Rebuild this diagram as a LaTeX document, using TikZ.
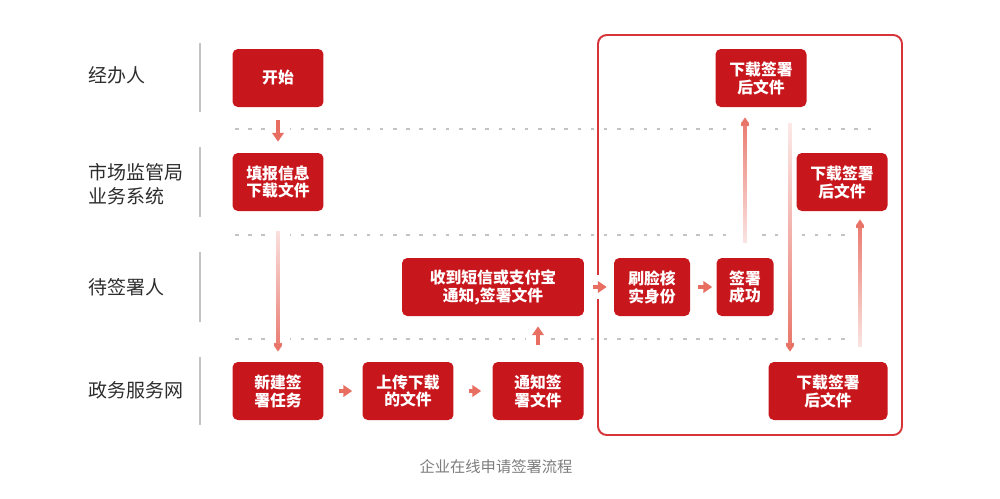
\documentclass[tikz,border=0pt]{standalone}
\usepackage{fontspec}
\setmainfont{Noto Sans CJK SC}
\usetikzlibrary{arrows.meta,fadings}
\definecolor{boxred}{RGB}{200,22,29}
\definecolor{framered}{RGB}{214,52,56}
\definecolor{flowred}{RGB}{232,110,98}
\definecolor{lanegray}{RGB}{195,195,195}
\definecolor{dashgray}{RGB}{195,195,195}
\definecolor{labelgray}{RGB}{45,45,45}
\definecolor{capgray}{RGB}{125,125,125}
\pgfdeclarelayer{grid}
\pgfdeclarelayer{back}
\pgfsetlayers{grid,back,main}
\tikzfading[name=tailtop, top color=transparent!92, bottom color=transparent!0]
\tikzfading[name=tailbottom, top color=transparent!0, bottom color=transparent!92]

\begin{document}
\begin{tikzpicture}[
    x=0.02cm, y=-0.02cm,
    box/.style={rectangle, rounded corners=3pt, fill=boxred, text=white, minimum width=1.82cm, minimum height=1.16cm, inner sep=0pt, align=center, font=\fontsize{9}{10.2}\selectfont\bfseries},
    lane/.style={anchor=west, align=left, inner sep=0pt, text=labelgray, font=\fontsize{10.8}{13.6}\selectfont},
    caption/.style={inner sep=0pt, text=capgray, font=\fontsize{8.7}{10}\selectfont},
    sep/.style={draw=lanegray, line width=1pt},
    gridline/.style={draw=dashgray, line width=0.8pt, dash pattern=on 2pt off 5.5pt},
    frame/.style={draw=framered, line width=1.1pt, rounded corners=5pt},
    gap/.style={draw=white, line width=14pt},
    arrow/.style={-{Triangle[length=5pt, width=6.5pt]}, draw=flowred, line width=2pt, preaction={draw=white, line width=14pt, -}},
    longarrow/.style={-{Triangle[length=5pt, width=6.5pt]}, draw=flowred, line width=2pt}
  ]
    \useasboundingbox (0,0) rectangle (1000,498);

    % lanes
    \node[lane] (agent) at (88,75) {经办人};
    \node[lane] (system) at (88,184) {市场监管局\\业务系统};
    \node[lane] (signer) at (88,287) {待签署人};
    \node[lane] (portal) at (88,390) {政务服务网};

    \begin{pgfonlayer}{grid}
      \foreach \ya/\yb in {43/112,147/217,252/322,357/425}
        \draw[sep] (200,\ya) -- (200,\yb);
      \foreach \y in {129,235,339}
        \draw[gridline] (235,\y) -- (880,\y);
      \draw[frame] (598,35) rectangle (902,435);
    \end{pgfonlayer}

    % steps
    \node[box] (start) at (278,78) {开始};
    \node[box] (fill) at (278,182) {填报信息\\下载文件};
    \node[box] (create) at (278,391) {新建签\\署任务};
    \node[box] (upload) at (408,391) {上传下载\\的文件};
    \node[box] (notify) at (538,391) {通知签\\署文件};
    \node[box, minimum width=3.64cm] (receive) at (493,287) {收到短信或支付宝\\通知,签署文件};
    \node[box, minimum width=1.52cm] (face) at (652,287) {刷脸核\\实身份};
    \node[box, minimum width=1.14cm] (success) at (745,287) {签署\\成功};
    \node[box] (dlTop) at (761,78) {下载签署\\后文件};
    \node[box] (dlRight) at (842,182) {下载签署\\后文件};
    \node[box, minimum width=2.38cm] (dlBottom) at (828,391) {下载签署\\后文件};

    \node[caption] (title) at (496,467) {企业在线申请签署流程};

    \coordinate (downX) at (790,0);
    \coordinate (upX) at (860,0);

    \begin{pgfonlayer}{back}
      \draw[arrow, shorten <=0.26cm, shorten >=0.22cm] (start) -- (fill);
      \draw[arrow, shorten <=0.3cm, shorten >=0.2cm] (create) -- (upload);
      \draw[arrow, shorten <=0.3cm, shorten >=0.22cm] (upload) -- (notify);
      \draw[arrow, shorten <=0.34cm, shorten >=0.2cm] (notify) -- (notify |- receive.south);
      \draw[arrow, shorten <=0.18cm, shorten >=0.14cm] (receive) -- (face);
      \draw[arrow, shorten <=0.16cm, shorten >=0.08cm] (face) -- (success);
      % long ones fade out at the tail
      \draw[gap, shorten <=0.4cm, shorten >=0.2cm] (fill) -- (create);
      \draw[gap, shorten <=0.3cm, shorten >=0.2cm] (success) -- (success |- dlTop.south);
      \draw[gap, shorten <=0.32cm, shorten >=0.2cm] (dlTop.south -| downX) -- (dlBottom.north -| downX);
      \draw[gap, shorten <=0.3cm, shorten >=0.16cm] (dlBottom.north -| upX) -- (dlRight.south -| upX);
      \draw[longarrow, path fading=tailtop, shorten <=0.4cm, shorten >=0.2cm] (fill) -- (create);
      \draw[longarrow, path fading=tailbottom, shorten <=0.3cm, shorten >=0.2cm] (success) -- (success |- dlTop.south);
      \draw[longarrow, path fading=tailtop, shorten <=0.32cm, shorten >=0.2cm] (dlTop.south -| downX) -- (dlBottom.north -| downX);
      \draw[longarrow, path fading=tailbottom, shorten <=0.3cm, shorten >=0.16cm] (dlBottom.north -| upX) -- (dlRight.south -| upX);
    \end{pgfonlayer}
  \end{tikzpicture}
\end{document}
